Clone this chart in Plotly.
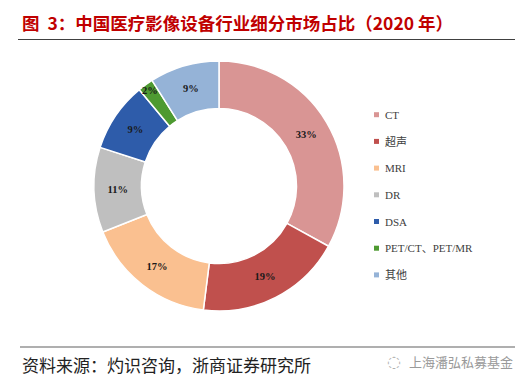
import plotly.graph_objects as go

categories = ["CT", "超声", "MRI", "DR", "DSA", "PET/CT、PET/MR", "其他"]
shares = [33, 19, 17, 11, 9, 2, 9]
colors = ["#D99594", "#C0504D", "#FAC090", "#BFBFBF", "#2E5CAA", "#4E9A31", "#95B3D7"]

title_text = "图&nbsp;&nbsp;3：中国医疗影像设备行业细分市场占比（2020 年）"
source_text = "资料来源：灼识咨询，浙商证券研究所"
watermark_text = "上海潘弘私募基金"

W, H = 524, 376

fig = go.Figure()
fig.add_trace(go.Pie(
    labels=categories,
    values=shares,
    sort=False,
    direction="clockwise",
    rotation=0,
    hole=0.62,
    marker=dict(colors=colors, line=dict(color="white", width=1.5)),
    texttemplate="<b>%{value}%</b>",
    textposition="inside",
    insidetextorientation="horizontal",
    textfont=dict(family="Liberation Serif, Noto Sans CJK SC", size=10.5, color="#1a1a1a"),
    domain=dict(x=[86 / W, 336 / W], y=[(H - 303) / H, (H - 53) / H]),
    showlegend=False,
    hoverinfo="label+percent",
))

shapes = []
annotations = []

# title and rules
annotations.append(dict(text=f"<b>{title_text}</b>", x=12 / W, y=1 - 14 / H, xref="paper", yref="paper",
                        xanchor="left", yanchor="middle", showarrow=False,
                        font=dict(family="Noto Sans CJK SC", size=17.5, color="#C00000")))
shapes.append(dict(type="line", xref="paper", yref="paper", x0=10 / W, x1=507 / W,
                   y0=1 - 31.5 / H, y1=1 - 31.5 / H, line=dict(color="#404040", width=1.2)))
shapes.append(dict(type="line", xref="paper", yref="paper", x0=12 / W, x1=507 / W,
                   y0=1 - 339 / H, y1=1 - 339 / H, line=dict(color="#606060", width=1.2)))
annotations.append(dict(text=source_text, x=12 / W, y=1 - 356 / H, xref="paper", yref="paper",
                        xanchor="left", yanchor="middle", showarrow=False,
                        font=dict(family="Noto Sans CJK SC", size=17, color="#222222")))
annotations.append(dict(text=watermark_text, x=507 / W, y=1 - 353 / H, xref="paper", yref="paper",
                        xanchor="right", yanchor="middle", showarrow=False,
                        font=dict(family="Noto Sans CJK SC", size=13, color="#9a9a9a")))
annotations.append(dict(text="◌", x=386 / W, y=1 - 353 / H, xref="paper", yref="paper",
                        xanchor="center", yanchor="middle", showarrow=False,
                        font=dict(family="DejaVu Sans", size=16, color="#b0b0b0")))

# legend
leg_y0, leg_dy = 106.7, 26.7
for i, (cat, col) in enumerate(zip(categories, colors)):
    yc = leg_y0 + i * leg_dy
    shapes.append(dict(type="rect", xref="paper", yref="paper",
                       x0=366 / W, x1=371 / W, y0=1 - (yc + 2.5) / H, y1=1 - (yc - 2.5) / H,
                       fillcolor=col, line=dict(width=0)))
    annotations.append(dict(text=cat, x=375 / W, y=1 - yc / H, xref="paper", yref="paper",
                            xanchor="left", yanchor="middle", showarrow=False,
                            font=dict(family="Liberation Serif, Noto Sans CJK SC", size=11, color="#404040")))

fig.update_layout(
    width=W, height=H,
    margin=dict(l=0, r=0, t=0, b=0),
    paper_bgcolor="white", plot_bgcolor="white",
    shapes=shapes, annotations=annotations,
    uniformtext=dict(minsize=9, mode="show"),
)

fig.write_html("out.html")
